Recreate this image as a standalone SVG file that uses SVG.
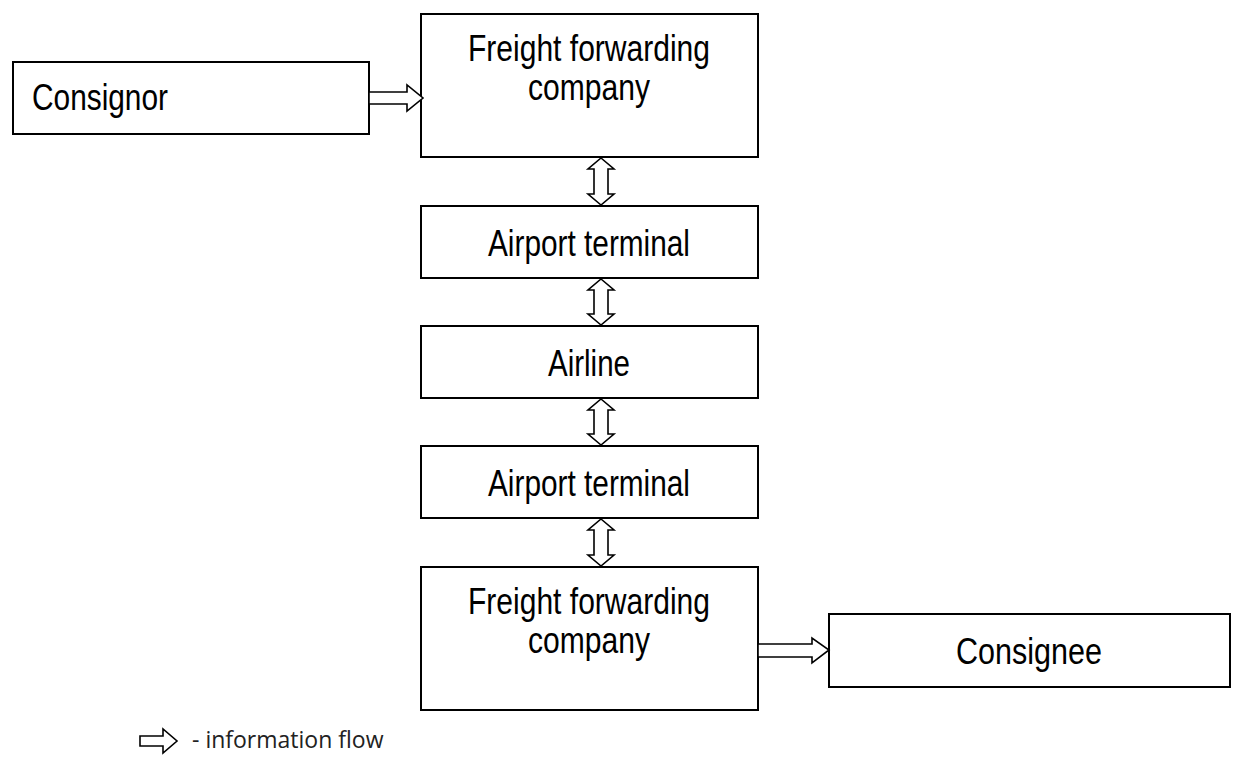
<svg xmlns="http://www.w3.org/2000/svg" width="1235" height="764" viewBox="0 0 1235 764">
<style>
.box{fill:#fff;stroke:#000;stroke-width:2}
.t{font-family:"Liberation Sans",Arial,sans-serif;font-size:37px;fill:#000;text-anchor:middle}
.arr{fill:#fff;stroke:#000;stroke-width:1.6;stroke-linejoin:miter}
.leg{font-family:"Open Sans","Liberation Sans",sans-serif;font-size:23px;fill:#222}
</style>
<rect width="1235" height="764" fill="#fff"/>
<g id="consignor">
<rect class="box" x="13" y="62" width="356" height="72"/>
<text class="t" x="100" y="110" textLength="136" lengthAdjust="spacingAndGlyphs">Consignor</text>
</g>
<g id="ffc1">
<rect class="box" x="421" y="14" width="337" height="143"/>
<text class="t" x="589" y="61" textLength="242" lengthAdjust="spacingAndGlyphs">Freight forwarding</text>
<text class="t" x="589" y="100" textLength="122" lengthAdjust="spacingAndGlyphs">company</text>
</g>
<g id="terminal1">
<rect class="box" x="421" y="206" width="337" height="72"/>
<text class="t" x="589" y="256" textLength="202" lengthAdjust="spacingAndGlyphs">Airport terminal</text>
</g>
<g id="airline">
<rect class="box" x="421" y="326" width="337" height="72"/>
<text class="t" x="589" y="376" textLength="82" lengthAdjust="spacingAndGlyphs">Airline</text>
</g>
<g id="terminal2">
<rect class="box" x="421" y="446" width="337" height="72"/>
<text class="t" x="589" y="496" textLength="202" lengthAdjust="spacingAndGlyphs">Airport terminal</text>
</g>
<g id="ffc2">
<rect class="box" x="421" y="567" width="337" height="143"/>
<text class="t" x="589" y="614" textLength="242" lengthAdjust="spacingAndGlyphs">Freight forwarding</text>
<text class="t" x="589" y="653" textLength="122" lengthAdjust="spacingAndGlyphs">company</text>
</g>
<g id="consignee">
<rect class="box" x="829" y="614" width="401" height="73"/>
<text class="t" x="1029" y="664" textLength="146" lengthAdjust="spacingAndGlyphs">Consignee</text>
</g>
<g id="connectors">
<polygon class="arr" points="369,92 407,92 407,85 423,98 407,111 407,104 369,104"/>
<polygon class="arr" points="758,644 812,644 812,638 829,650 812,663 812,657 758,657"/>
<polygon class="arr" points="601,158 614,169 608,169 608,194 614,194 601,205 588,194 594,194 594,169 588,169"/>
<polygon class="arr" points="601,279 614,290 608,290 608,314 614,314 601,325 588,314 594,314 594,290 588,290"/>
<polygon class="arr" points="601,399 614,410 608,410 608,434 614,434 601,445 588,434 594,434 594,410 588,410"/>
<polygon class="arr" points="601,519 614,530 608,530 608,555 614,555 601,566 588,555 594,555 594,530 588,530"/>
</g>
<g id="legend">
<polygon class="arr" points="140,736 163,736 163,729 177,741 163,753 163,746 140,746"/>
<text class="leg" x="192" y="748">- information flow</text>
</g>
</svg>
